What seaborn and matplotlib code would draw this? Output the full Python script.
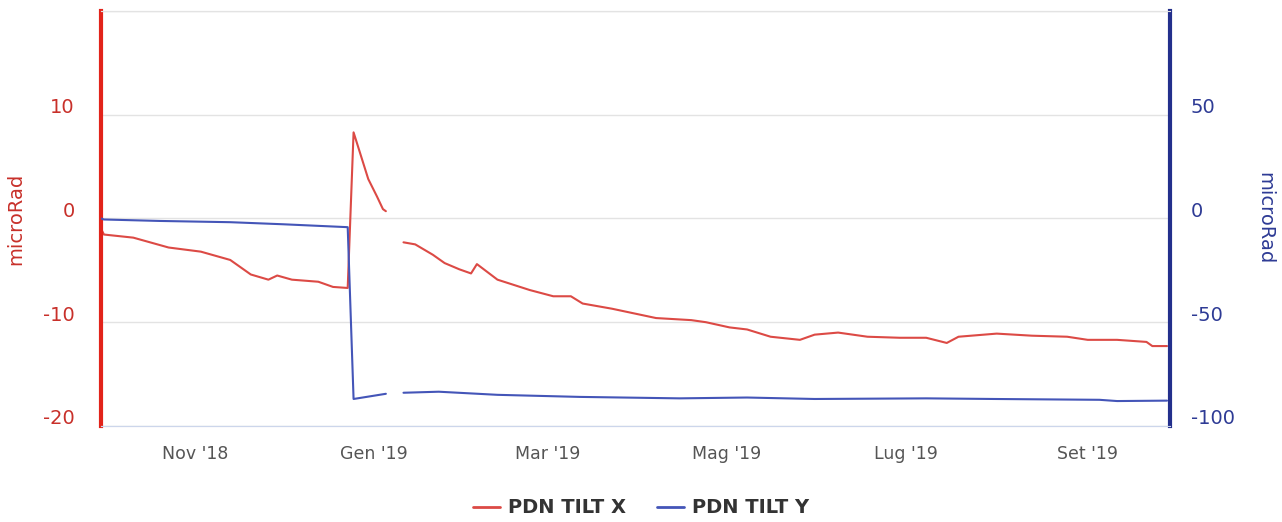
import numpy as np
import pandas as pd
import seaborn as sns
from matplotlib import pyplot as plt
from matplotlib.lines import Line2D
from matplotlib.transforms import ScaledTranslation

# PDN TILT X (left axis), two segments split by a data gap
tilt_x_dates_1 = ['2018-09-30', '2018-10-01', '2018-10-11', '2018-10-23', '2018-11-03', '2018-11-13',
                  '2018-11-20', '2018-11-26', '2018-11-29', '2018-12-04', '2018-12-13', '2018-12-18',
                  '2018-12-23', '2018-12-25', '2018-12-29', '2018-12-30', '2019-01-02', '2019-01-04',
                  '2019-01-05']
tilt_x_vals_1 = [-1.0, -1.55, -1.85, -2.8, -3.2, -4.0,
                 -5.4, -5.9, -5.5, -5.9, -6.1, -6.6,
                 -6.7, 8.3, 4.7, 3.8, 2.1, 0.9,
                 0.7]
tilt_x_dates_2 = ['2019-01-11', '2019-01-15', '2019-01-21', '2019-01-25', '2019-01-30', '2019-02-03',
                  '2019-02-05', '2019-02-12', '2019-02-23', '2019-03-03', '2019-03-09', '2019-03-13',
                  '2019-03-23', '2019-04-07', '2019-04-19', '2019-04-24', '2019-05-02', '2019-05-08',
                  '2019-05-16', '2019-05-26', '2019-05-31', '2019-06-08', '2019-06-18', '2019-06-29',
                  '2019-07-08', '2019-07-15', '2019-07-19', '2019-08-01', '2019-08-13', '2019-08-25',
                  '2019-09-01', '2019-09-11', '2019-09-21', '2019-09-23', '2019-09-28']
tilt_x_vals_2 = [-2.3, -2.5, -3.5, -4.3, -4.9, -5.3,
                 -4.4, -5.9, -6.9, -7.5, -7.5, -8.2,
                 -8.7, -9.6, -9.8, -10.0, -10.5, -10.7,
                 -11.4, -11.7, -11.2, -11.0, -11.4, -11.5,
                 -11.5, -12.0, -11.4, -11.1, -11.3, -11.4,
                 -11.7, -11.7, -11.9, -12.3, -12.3]

# PDN TILT Y (right axis)
tilt_y_dates_1 = ['2018-09-30', '2018-10-01', '2018-10-20', '2018-11-13', '2018-12-01', '2018-12-23',
                  '2018-12-25', '2019-01-05']
tilt_y_vals_1 = [0.0, -0.5, -1.2, -1.8, -2.8, -4.2,
                 -87.0, -84.5]
tilt_y_dates_2 = ['2019-01-11', '2019-01-23', '2019-02-12', '2019-03-12', '2019-04-15', '2019-05-08',
                  '2019-05-31', '2019-07-08', '2019-07-31', '2019-09-05', '2019-09-11', '2019-09-28']
tilt_y_vals_2 = [-84.0, -83.5, -85.0, -86.0, -86.7, -86.3,
                 -87.0, -86.7, -87.0, -87.4, -88.0, -87.8]

tick_dates = ['2018-11-01', '2019-01-01', '2019-03-01', '2019-05-01', '2019-07-01', '2019-09-01']
tick_labels = ["Nov '18", "Gen '19", "Mar '19", "Mag '19", "Lug '19", "Set '19"]
series_names = ['PDN TILT X', 'PDN TILT Y']


def make_df(parts):
    frames = []
    for i, (d, v) in enumerate(parts):
        frames.append(pd.DataFrame({'date': pd.to_datetime(d), 'value': v, 'seg': i}))
    return pd.concat(frames, ignore_index=True)


df_x = make_df([(tilt_x_dates_1, tilt_x_vals_1), (tilt_x_dates_2, tilt_x_vals_2)])
df_y = make_df([(tilt_y_dates_1, tilt_y_vals_1), (tilt_y_dates_2, tilt_y_vals_2)])

sns.set_style('white')
plt.rcParams['font.family'] = ['DejaVu Sans']
plt.rcParams['axes.unicode_minus'] = False

red_line = '#dc4a45'
blue_line = '#4455b8'
red_axis = '#e2231a'
blue_axis = '#232f8c'
red_text = '#c8302a'
blue_text = '#2e3b95'
grid_col = '#e3e3e3'

fig = plt.figure(figsize=(12.82, 5.22), dpi=100)
ax = fig.add_axes([0.0788, 0.184, 0.9126 - 0.0788, 0.979 - 0.184])
ax2 = ax.twinx()

sns.lineplot(data=df_x, x='date', y='value', units='seg', estimator=None,
             color=red_line, linewidth=1.5, ax=ax, legend=False)
sns.lineplot(data=df_y, x='date', y='value', units='seg', estimator=None,
             color=blue_line, linewidth=1.5, ax=ax2, legend=False)

ax.set_xlim(pd.Timestamp('2018-09-30'), pd.Timestamp('2019-09-29'))
ax.set_ylim(-20, 20)
ax2.set_ylim(-100, 100)

ax.set_yticks([-20, -10, 0, 10, 20])
ax.set_yticklabels(['-20', '-10', '0', '10', ''])
ax2.set_yticks([-100, -50, 0, 50, 100])
ax2.set_yticklabels(['-100', '-50', '0', '50', ''])
ax.grid(axis='y', color=grid_col, linewidth=1)
ax.set_axisbelow(True)

ax.set_xticks(pd.to_datetime(tick_dates))
ax.set_xticklabels(tick_labels)
ax.tick_params(axis='x', colors='#d0d6e0', length=10, width=1, pad=4, labelsize=12.5, labelcolor='#555555')
ax.tick_params(axis='y', length=0, pad=19, labelsize=14, labelcolor=red_text)
ax2.tick_params(axis='y', length=0, pad=15, labelsize=14, labelcolor=blue_text)

# highcharts puts the y labels a little above their grid lines
shift = ScaledTranslation(0, 0.09, fig.dpi_scale_trans)
for lab in ax.get_yticklabels() + ax2.get_yticklabels():
    lab.set_transform(lab.get_transform() + shift)

ax.set_xlabel('')
ax.set_ylabel('microRad', color=red_text, fontsize=14, va='center')
ax.yaxis.set_label_coords(-0.080, 0.5)
ax2.set_ylabel('microRad', color=blue_text, fontsize=14, rotation=-90, va='center')
ax2.yaxis.set_label_coords(1.089, 0.5)

for a in (ax, ax2):
    a.spines['top'].set_color(grid_col)
    a.spines['bottom'].set_color('#ccd6eb')
    a.spines['left'].set_visible(False)
    a.spines['right'].set_visible(False)
ax.spines['left'].set_visible(True)
ax.spines['left'].set_color(red_axis)
ax.spines['left'].set_linewidth(3)
ax2.spines['right'].set_visible(True)
ax2.spines['right'].set_color(blue_axis)
ax2.spines['right'].set_linewidth(3)

handles = [Line2D([0], [0], color=red_line, linewidth=2),
           Line2D([0], [0], color=blue_line, linewidth=2)]
leg = fig.legend(handles, series_names, loc='center', bbox_to_anchor=(0.5, 0.027), ncol=2,
                 frameon=False, handlelength=1.4, handletextpad=0.4, columnspacing=1.6,
                 prop={'weight': 'bold', 'size': 14})
for t in leg.get_texts():
    t.set_color('#333333')

fig.savefig('out.png', dpi=100)
